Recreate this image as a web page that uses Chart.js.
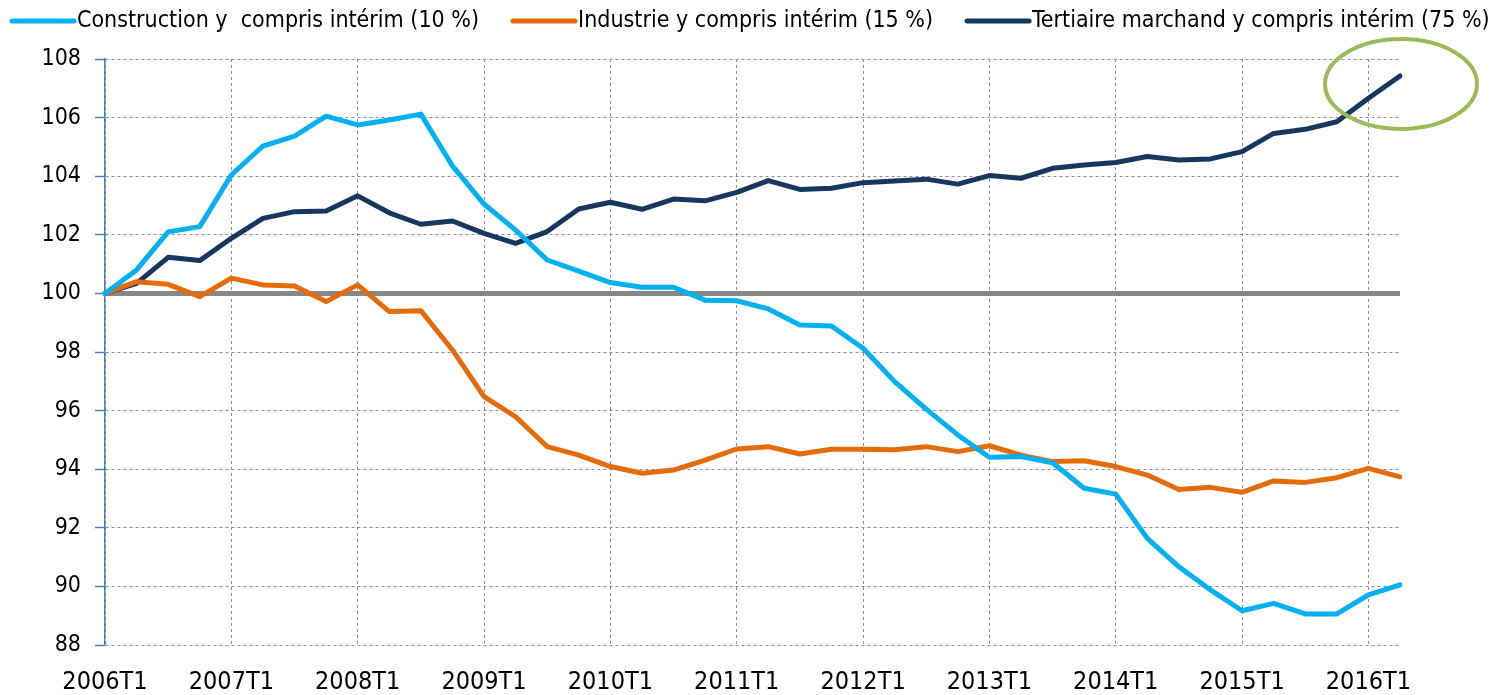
<!DOCTYPE html>
<html>
<head>
<meta charset="utf-8">
<script src="https://cdn.jsdelivr.net/npm/chart.js@4/dist/chart.umd.min.js"></script>
<style>
  html, body { margin: 0; padding: 0; background: #fff; }
  #wrap { width: 1505px; height: 695px; }
</style>
</head>
<body>
<div id="wrap"><canvas id="chart"></canvas></div>
<script>
// Trimestres 2006T1 .. 2016T2
const quarters = [
  "2006T1", "2006T2", "2006T3", "2006T4", "2007T1", "2007T2", "2007T3", "2007T4",
  "2008T1", "2008T2", "2008T3", "2008T4", "2009T1", "2009T2", "2009T3", "2009T4",
  "2010T1", "2010T2", "2010T3", "2010T4", "2011T1", "2011T2", "2011T3", "2011T4",
  "2012T1", "2012T2", "2012T3", "2012T4", "2013T1", "2013T2", "2013T3", "2013T4",
  "2014T1", "2014T2", "2014T3", "2014T4", "2015T1", "2015T2", "2015T3", "2015T4",
  "2016T1", "2016T2"
];

const construction = [
  100.0, 100.8, 102.1, 102.28, 104.04, 105.03, 105.37, 106.05,
  105.75, 105.92, 106.12, 104.35, 103.05, 102.16, 101.14, 100.76,
  100.37, 100.21, 100.21, 99.77, 99.75, 99.47, 98.92, 98.89,
  98.13, 96.99, 96.05, 95.17, 94.41, 94.43, 94.22, 93.35,
  93.15, 91.64, 90.67, 89.88, 89.17, 89.42, 89.06, 89.06,
  89.71, 90.05
];

const industrie = [
  100.0, 100.4, 100.31, 99.89, 100.52, 100.29, 100.25, 99.72,
  100.29, 99.38, 99.41, 98.07, 96.48, 95.79, 94.77, 94.48,
  94.09, 93.86, 93.97, 94.31, 94.69, 94.77, 94.52, 94.68,
  94.68, 94.66, 94.77, 94.6, 94.8, 94.48, 94.26, 94.29,
  94.09, 93.8, 93.31, 93.38, 93.21, 93.6, 93.55, 93.71,
  94.03, 93.74
];

const tertiaire = [
  100.0, 100.34, 101.23, 101.12, 101.88, 102.56, 102.79, 102.81,
  103.33, 102.75, 102.36, 102.47, 102.05, 101.71, 102.11, 102.88,
  103.11, 102.87, 103.22, 103.16, 103.45, 103.85, 103.55, 103.59,
  103.78, 103.84, 103.9, 103.73, 104.02, 103.93, 104.27, 104.38,
  104.47, 104.67, 104.55, 104.59, 104.84, 105.46, 105.6, 105.86,
  106.66, 107.42
];

const seriesNames = [
  "Construction y  compris intérim (10 %)",
  "Industrie y compris intérim (15 %)",
  "Tertiaire marchand y compris intérim (75 %)"
];

const baseValue = 100;
const FONT = "'Liberation Sans Narrow', 'DejaVu Sans Condensed', sans-serif";


// ligne de base à 100
const baseLinePlugin = {
  id: "baseLine",
  beforeDatasetsDraw(chart) {
    const { ctx, chartArea, scales } = chart;
    const y = scales.y.getPixelForValue(baseValue);
    ctx.save();
    ctx.strokeStyle = "#878787";
    ctx.lineWidth = 5;
    ctx.beginPath();
    ctx.moveTo(chartArea.left, y);
    ctx.lineTo(chartArea.right, y);
    ctx.stroke();
    ctx.restore();
  }
};

// ellipse verte autour du dernier point
const ellipsePlugin = {
  id: "lastPointEllipse",
  afterDatasetsDraw(chart) {
    const meta = chart.getDatasetMeta(2);
    const last = meta.data[meta.data.length - 1];
    const ctx = chart.ctx;
    ctx.save();
    ctx.strokeStyle = "#9bbb59";
    ctx.lineWidth = 4;
    ctx.beginPath();
    ctx.ellipse(last.x + 1, last.y + 8, 76, 45, 0, 0, Math.PI * 2);
    ctx.stroke();
    ctx.restore();
  }
};

// légende en une ligne, trait collé au texte
const lineLegendPlugin = {
  id: "lineLegend",
  afterDraw(chart) {
    const ctx = chart.ctx;
    ctx.save();
    ctx.font = "23px " + FONT;
    ctx.textBaseline = "middle";
    ctx.fillStyle = "#000";
    let x = 12;
    const y = 21;
    chart.data.datasets.forEach(ds => {
      ctx.strokeStyle = ds.borderColor;
      ctx.lineWidth = 5;
      ctx.lineCap = "round";
      ctx.beginPath();
      ctx.moveTo(x, y);
      ctx.lineTo(x + 62, y);
      ctx.stroke();
      ctx.fillText(ds.label, x + 65, y);
      x += 65 + ctx.measureText(ds.label).width + 34;
    });
    ctx.restore();
  }
};


const ctx = document.getElementById("chart").getContext("2d");
const chart = new Chart(ctx, {
  type: "line",
  data: {
    labels: quarters,
    datasets: [
      { label: seriesNames[0], data: construction, borderColor: "#00b0f0" },
      { label: seriesNames[1], data: industrie, borderColor: "#e46c0a" },
      { label: seriesNames[2], data: tertiaire, borderColor: "#17375e" }
    ]
  },
  options: {
    responsive: true,
    maintainAspectRatio: false,
    animation: false,
    layout: { padding: { top: 59, left: 0, right: 0, bottom: 0 } },
    elements: {
      line: { borderWidth: 5, tension: 0, borderCapStyle: "round", borderJoinStyle: "round" },
      point: { radius: 0, hoverRadius: 0 }
    },
    plugins: {
      tooltip: { enabled: false },
      legend: { display: false }
    },
    scales: {
      x: {
        afterFit: (s) => { s.height = 50; },
        ticks: {
          autoSkip: false,
          maxRotation: 0,
          color: "#000",
          font: { family: FONT, size: 25 },
          padding: 22,
          callback: (v, i) => (i % 4 === 0 ? quarters[i] : null)
        },
        grid: { color: "#8c8c8c", lineWidth: 1, drawTicks: false },
        border: { display: false, dash: [3, 3] }
      },
      y: {
        min: 88,
        max: 108,
        afterFit: (s) => { s.width = 105; },
        ticks: {
          stepSize: 2,
          color: "#000",
          font: { family: FONT, size: 23 },
          padding: 14
        },
        grid: {
          color: "#8c8c8c",
          lineWidth: 1,
          tickColor: "#4a7ebb",
          tickLength: 10,
          tickWidth: 1.5
        },
        border: { display: true, color: "#4a7ebb", width: 1.5, dash: [3, 3] }
      },
      yRight: {
        position: "right",
        min: 88,
        max: 108,
        afterFit: (s) => { s.width = 105; },
        ticks: { display: false },
        grid: { display: false },
        border: { display: false }
      }
    }
  },
  plugins: [baseLinePlugin, ellipsePlugin, lineLegendPlugin]
});
</script>
</body>
</html>
